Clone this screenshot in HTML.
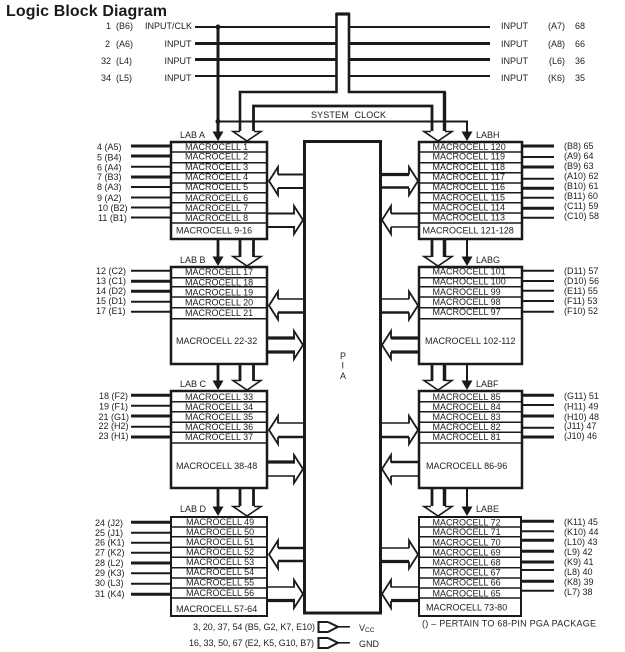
<!DOCTYPE html>
<html>
<head>
<meta charset="utf-8">
<style>
html,body{margin:0;padding:0;background:#fff;width:625px;height:652px;overflow:hidden}
svg{display:block}
text{font-family:"Liberation Sans",sans-serif;font-size:9px;fill:#222}
.w{fill:#fff}
</style>
</head>
<body>
<svg width="625" height="652" viewBox="0 0 625 652" xmlns="http://www.w3.org/2000/svg">
<defs>
<g id="la" fill="none" stroke="#1a1a1a" stroke-width="1.8" stroke-miterlimit="10"><polyline points="10,-6.5 10,-14 1,0 10,14 10,7"/></g>
<g id="ra" fill="none" stroke="#1a1a1a" stroke-width="1.8" stroke-miterlimit="10"><polyline points="-10,-6.5 -10,-14 -1,0 -10,14 -10,7"/></g>
<g id="wedge" fill="none" stroke="#1a1a1a" stroke-width="1.6"><polyline points="-7,-9.5 -14,-9.5 0,0 14,-9.5 7,-9.500"/></g>
<polygon id="solid" points="-5.5,-9.5 5.5,-9.5 0,0" fill="#1a1a1a"/>
</defs>

<text x="6" y="16" style="font-size:16px;font-weight:bold;fill:#1a1a1a" textLength="161">Logic Block Diagram</text>

<!-- input lines -->
<g stroke="#1a1a1a" fill="none">
<line x1="195" y1="27" x2="337" y2="27" stroke-width="2"/>
<line x1="195" y1="43.5" x2="337" y2="43.5" stroke-width="3"/>
<line x1="195" y1="59.5" x2="337" y2="59.5" stroke-width="3"/>
<line x1="195" y1="76" x2="337" y2="76" stroke-width="2"/>
<line x1="349" y1="27" x2="490" y2="27" stroke-width="2"/>
<line x1="349" y1="43.5" x2="490" y2="43.5" stroke-width="3"/>
<line x1="349" y1="59.5" x2="490" y2="59.5" stroke-width="3"/>
<line x1="349" y1="76" x2="490" y2="76" stroke-width="2"/>
<!-- global bus -->
<polyline points="240,131 240,92 336.5,92 336.5,14 349,14 349,92 444.5,92 444.5,131" stroke-width="2.6"/>
<line x1="336" y1="14" x2="349.5" y2="14" stroke-width="3.2"/>
<line x1="444.5" y1="92" x2="444.5" y2="131" stroke-width="3.4"/>
<polyline points="253.5,131 253.5,106 432,106 432,131" stroke-width="2.8"/>
<polyline points="218,121.5 467,121.5 467,132" stroke-width="2"/>
<line x1="218" y1="27" x2="218" y2="132" stroke-width="3"/>
<!-- verticals between LABs -->
<g stroke-width="2.8">
<line x1="218" y1="239" x2="218" y2="257"/><line x1="240" y1="239" x2="240" y2="257"/><line x1="253.500" y1="239" x2="253.500" y2="257"/>
<line x1="218" y1="364" x2="218" y2="381"/><line x1="240" y1="364" x2="240" y2="381"/><line x1="253.500" y1="364" x2="253.500" y2="381"/>
<line x1="218" y1="488" x2="218" y2="507"/><line x1="240" y1="488" x2="240" y2="506"/><line x1="253.500" y1="488" x2="253.500" y2="506"/>
<line x1="432" y1="239" x2="432" y2="257"/><line x1="432" y1="364" x2="432" y2="381"/><line x1="432" y1="488" x2="432" y2="506"/>
</g>
<g stroke-width="3.5">
<line x1="444.500" y1="239" x2="444.500" y2="257"/><line x1="444.500" y1="364" x2="444.500" y2="381"/><line x1="444.500" y1="488" x2="444.500" y2="506"/>
</g>
<g stroke-width="2">
<line x1="467" y1="239" x2="467" y2="257"/><line x1="467" y1="364" x2="467" y2="381"/><line x1="467" y1="488" x2="467" y2="507"/>
</g>
</g>
<circle cx="218" cy="27" r="2.5" fill="#1a1a1a"/>
<circle cx="218" cy="121.5" r="2.5" fill="#1a1a1a"/>

<!-- arrowheads into LABs -->
<use href="#solid" x="218" y="141"/><use href="#solid" x="218" y="266"/><use href="#solid" x="218" y="390"/><use href="#solid" x="218" y="516"/>
<use href="#solid" x="467" y="141"/><use href="#solid" x="467" y="266"/><use href="#solid" x="467" y="390"/><use href="#solid" x="467" y="516"/>
<use href="#wedge" x="247" y="141"/><use href="#wedge" x="247" y="266"/><use href="#wedge" x="247" y="390"/><use href="#wedge" x="247" y="516"/>
<use href="#wedge" x="438" y="141"/><use href="#wedge" x="438" y="266"/><use href="#wedge" x="438" y="390"/><use href="#wedge" x="438" y="516"/>

<!-- PIA arrowheads, left side -->
<use href="#la" x="268" y="181"/><use href="#ra" x="304" y="220"/>
<use href="#la" x="268" y="305.500"/><use href="#ra" x="304" y="345"/>
<use href="#la" x="268" y="430"/><use href="#ra" x="304" y="469"/>
<use href="#la" x="268" y="554.500"/><use href="#ra" x="304" y="594"/>
<!-- PIA arrowheads, right side -->
<use href="#ra" x="419" y="181"/><use href="#la" x="381" y="220"/>
<use href="#ra" x="419" y="305.500"/><use href="#la" x="381" y="345"/>
<use href="#ra" x="419" y="430"/><use href="#la" x="381" y="469"/>
<use href="#ra" x="419" y="554.500"/><use href="#la" x="381" y="594"/>
<!-- arrow stems by weight -->
<g stroke="#1a1a1a" fill="none">
<path stroke-width="2" d="M278 174.500H304M278 188H304M267 213.500H295M267 227H295M391 213.500H419"/>
<path stroke-width="1.5" d="M278 299H304M278 423H304M267 476H295M267 587H295M381 299H409M381 423H409M381 548H409M391 213.500H419M391 227H419M391 476H419M391 587H419"/>
<path stroke-width="2.6" d="M278 312.500H304M278 437H304M278 548H304M278 561H304M381 312.500H409M381 437H409M381 187.500H409M391 462H419"/>
<path stroke-width="3.2" d="M267 338H295M267 352H295M267 462H295M267 600.500H295M381 174.500H409M391 338H419M391 352H419M381 561.500H409M391 600.500H419"/>
</g>

<!-- PIA -->
<rect x="304.500" y="141.500" width="76" height="471.500" class="w" stroke="#1a1a1a" stroke-width="3"/>
<text x="340" y="359">P</text><text x="341.500" y="368.500">I</text><text x="340" y="379">A</text>

<!-- LAB boxes -->
<g class="w" stroke="#1a1a1a" stroke-width="2.5">
<rect x="171" y="142" width="96" height="97"/>
<rect x="171" y="267" width="96" height="97"/>
<rect x="171" y="391" width="96" height="97"/>
<rect x="171" y="517" width="96" height="99" stroke-width="2"/>
<rect x="419" y="142" width="103" height="97"/>
<rect x="419" y="267" width="103" height="97"/>
<rect x="419" y="391" width="103" height="97"/>
<rect x="419" y="517" width="102" height="99" stroke-width="2"/>
</g>
<!-- row separators -->
<g stroke="#1a1a1a" stroke-width="1.5">
<path d="M171 152H267M171 162.700H267M171 172.700H267M171 183H267M171 192.700H267M171 202.700H267M171 213H267M171 223H267"/>
<path d="M171 277.700H267M171 286.700H267M171 297H267M171 307.700H267M171 318.700H267"/>
<path d="M171 401.700H267M171 411.700H267M171 422.300H267M171 432.300H267M171 443H267"/>
<path d="M171 527H267M171 536.700H267M171 547.300H267M171 557.300H267M171 567.700H267M171 578H267M171 588H267M171 598H267"/>
<path d="M419 152H522M419 162.700H522M419 172.700H522M419 183H522M419 192.700H522M419 202.700H522M419 213H522M419 223H522"/>
<path d="M419 277.700H522M419 286.700H522M419 297H522M419 307.700H522M419 318.700H522"/>
<path d="M419 401.700H522M419 411.700H522M419 422.300H522M419 432.300H522M419 443H522"/>
<path d="M419 527H521M419 536.700H521M419 547.300H521M419 557.300H521M419 567.700H521M419 578H521M419 588H521M419 598H521"/>
</g>

<!-- left pin lines -->
<g stroke="#1a1a1a">
<g stroke-width="3"><path d="M131 146H171M131 156H171M131 177H171M131 281.300H171M131 291.300H171M131 395.300H171M131 416H171M131 437H171M131 522.300H171M131 563H171M131 594.300H171"/></g>
<g stroke-width="2"><path d="M131 166.700H171M131 187H171M131 197.500H171M131 207.500H171M131 217.500H171M131 270.700H171M131 301.700H171M131 311.700H171M131 405.700H171M131 426.700H171M131 532.700H171M131 542.700H171M131 552.700H171M131 573.300H171M131 583.700H171"/></g>
<!-- right pin lines -->
<g stroke-width="3"><path d="M522 146H554M522 167H554M522 188.300H554M522 208.300H554M522 395.300H554M522 416H554M522 437H554M522 521.300H554M522 540.300H554M522 551.300H554M522 562H554M522 581.300H554"/></g>
<g stroke-width="2"><path d="M522 157H554M522 178.700H554M522 197.700H554M522 217.700H554M522 270.700H554M522 281H554M522 290.700H554M522 301H554M522 311.700H554M522 405H554M522 427.700H554M522 531.300H554M522 570H554M522 590.700H554"/></g>
</g>

<!-- top labels -->
<text x="106" y="29">1</text><text x="116" y="29">(B6)</text><text x="145" y="29">INPUT/CLK</text>
<text x="105" y="47">2</text><text x="116" y="47">(A6)</text><text x="164.500" y="47">INPUT</text>
<text x="101" y="64">32</text><text x="116" y="64">(L4)</text><text x="164.500" y="64">INPUT</text>
<text x="101" y="81">34</text><text x="116" y="81">(L5)</text><text x="164.500" y="81">INPUT</text>
<text x="501" y="29">INPUT</text><text x="548" y="29">(A7)</text><text x="575" y="29">68</text>
<text x="501" y="47">INPUT</text><text x="548" y="47">(A8)</text><text x="575" y="47">66</text>
<text x="501" y="64">INPUT</text><text x="549" y="64">(L6)</text><text x="575" y="64">36</text>
<text x="501" y="81">INPUT</text><text x="548" y="81">(K6)</text><text x="575" y="81">35</text>
<text x="311" y="118" textLength="75" style="word-spacing:3px">SYSTEM CLOCK</text>

<!-- LAB titles -->
<text x="180" y="138">LAB A</text><text x="180" y="263">LAB B</text><text x="180" y="387">LAB C</text><text x="180" y="512">LAB D</text>
<text x="476" y="138">LABH</text><text x="476" y="263">LABG</text><text x="476" y="387">LABF</text><text x="476" y="512">LABE</text>

<!-- LAB A cells -->
<text x="185" y="150">MACROCELL 1</text><text x="185" y="159.500">MACROCELL 2</text><text x="185" y="170">MACROCELL 3</text><text x="185" y="180">MACROCELL 4</text><text x="185" y="190">MACROCELL 5</text><text x="185" y="201">MACROCELL 6</text><text x="185" y="211">MACROCELL 7</text><text x="185" y="221">MACROCELL 8</text><text x="176" y="233.500">MACROCELL 9-16</text>
<!-- LAB B cells -->
<text x="185" y="275">MACROCELL 17</text><text x="185" y="285.500">MACROCELL 18</text><text x="185" y="295.500">MACROCELL 19</text><text x="185" y="305.500">MACROCELL 20</text><text x="185" y="316">MACROCELL 21</text><text x="176" y="344">MACROCELL 22-32</text>
<!-- LAB C cells -->
<text x="185" y="400">MACROCELL 33</text><text x="185" y="410">MACROCELL 34</text><text x="185" y="420">MACROCELL 35</text><text x="185" y="430">MACROCELL 36</text><text x="185" y="440">MACROCELL 37</text><text x="176" y="469">MACROCELL 38-48</text>
<!-- LAB D cells -->
<text x="186" y="525">MACROCELL 49</text><text x="186" y="535">MACROCELL 50</text><text x="186" y="545">MACROCELL 51</text><text x="186" y="555">MACROCELL 52</text><text x="186" y="565">MACROCELL 53</text><text x="186" y="575">MACROCELL 54</text><text x="186" y="585.500">MACROCELL 55</text><text x="186" y="596">MACROCELL 56</text><text x="176" y="612">MACROCELL 57-64</text>
<!-- LAB H cells -->
<text x="432.500" y="150">MACROCELL 120</text><text x="432.500" y="159.500">MACROCELL 119</text><text x="432.500" y="170">MACROCELL 118</text><text x="432.500" y="180">MACROCELL 117</text><text x="432.500" y="190">MACROCELL 116</text><text x="432.500" y="200.500">MACROCELL 115</text><text x="432.500" y="210.500">MACROCELL 114</text><text x="432.500" y="220.500">MACROCELL 113</text><text x="422.500" y="233.500">MACROCELL 121-128</text>
<!-- LAB G cells -->
<text x="432.500" y="274.500">MACROCELL 101</text><text x="432.500" y="284.500">MACROCELL 100</text><text x="432.500" y="295">MACROCELL 99</text><text x="432.500" y="305">MACROCELL 98</text><text x="432.500" y="315">MACROCELL 97</text><text x="425" y="344">MACROCELL 102-112</text>
<!-- LAB F cells -->
<text x="432.500" y="400">MACROCELL 85</text><text x="432.500" y="410">MACROCELL 84</text><text x="432.500" y="420">MACROCELL 83</text><text x="432.500" y="430">MACROCELL 82</text><text x="432.500" y="440">MACROCELL 81</text><text x="426" y="469">MACROCELL 86-96</text>
<!-- LAB E cells -->
<text x="432.500" y="525.500">MACROCELL 72</text><text x="432.500" y="535">MACROCELL 71</text><text x="432.500" y="545.500">MACROCELL 70</text><text x="432.500" y="555.500">MACROCELL 69</text><text x="432.500" y="565.500">MACROCELL 68</text><text x="432.500" y="575.500">MACROCELL 67</text><text x="432.500" y="585.500">MACROCELL 66</text><text x="432.500" y="596.500">MACROCELL 65</text><text x="426" y="610.500">MACROCELL 73-80</text>

<!-- left pin labels -->
<text x="97" y="150">4 (A5)</text><text x="97" y="160.500">5 (B4)</text><text x="97" y="170.500">6 (A4)</text><text x="97" y="180">7 (B3)</text><text x="97" y="190">8 (A3)</text><text x="97" y="201">9 (A2)</text><text x="98" y="211">10 (B2)</text><text x="98" y="221">11 (B1)</text>
<text x="96" y="274">12 (C2)</text><text x="96" y="284">13 (C1)</text><text x="96" y="294">14 (D2)</text><text x="96" y="304">15 (D1)</text><text x="96" y="314">17 (E1)</text>
<text x="99" y="399">18 (F2)</text><text x="99" y="409.500">19 (F1)</text><text x="98.500" y="420">21 (G1)</text><text x="98.500" y="429">22 (H2)</text><text x="98.500" y="439">23 (H1)</text>
<text x="95" y="526">24 (J2)</text><text x="95" y="536">25 (J1)</text><text x="95" y="545.500">26 (K1)</text><text x="95" y="555.500">27 (K2)</text><text x="95" y="566">28 (L2)</text><text x="95" y="576">29 (K3)</text><text x="95" y="586">30 (L3)</text><text x="95" y="597">31 (K4)</text>

<!-- right pin labels -->
<text x="564" y="149">(B8) 65</text><text x="564" y="159">(A9) 64</text><text x="564" y="169">(B9) 63</text><text x="564" y="179">(A10) 62</text><text x="564" y="189">(B10) 61</text><text x="564" y="199">(B11) 60</text><text x="564" y="209">(C11) 59</text><text x="564" y="219">(C10) 58</text>
<text x="564" y="274">(D11) 57</text><text x="564" y="284">(D10) 56</text><text x="564" y="294">(E11) 55</text><text x="564" y="304">(F11) 53</text><text x="564" y="314">(F10) 52</text>
<text x="564" y="399">(G11) 51</text><text x="564" y="409.500">(H11) 49</text><text x="564" y="420">(H10) 48</text><text x="564" y="429">(J11) 47</text><text x="564" y="439">(J10) 46</text>
<text x="564" y="525">(K11) 45</text><text x="564" y="535">(K10) 44</text><text x="564" y="545">(L10) 43</text><text x="564" y="555">(L9) 42</text><text x="564" y="565">(K9) 41</text><text x="564" y="575">(L8) 40</text><text x="564" y="585">(K8) 39</text><text x="564" y="595">(L7) 38</text>

<!-- power -->
<text x="193" y="630" textLength="122">3, 20, 37, 54 (B5, G2, K7, E10)</text>
<text x="189" y="646" textLength="125">16, 33, 50, 67 (E2, K5, G10, B7)</text>
<g fill="none" stroke="#1a1a1a" stroke-width="2">
<polyline points="328,622 318.500,622 318.500,632 328,632 338,626.800 328,622"/>
<line x1="337" y1="626.800" x2="350" y2="626.800" stroke-width="1.6"/>
<polyline points="328,638 318.500,638 318.500,648 328,648 338,642.800 328,638"/>
<line x1="337" y1="642.800" x2="350" y2="642.800" stroke-width="1.6"/>
</g>
<text x="359" y="631">V<tspan style="font-size:6.500px" dy="1">CC</tspan></text>
<text x="359" y="647">GND</text>
<text x="422" y="626.500" textLength="174">() – PERTAIN TO 68-PIN PGA PACKAGE</text>
</svg>
</body>
</html>
